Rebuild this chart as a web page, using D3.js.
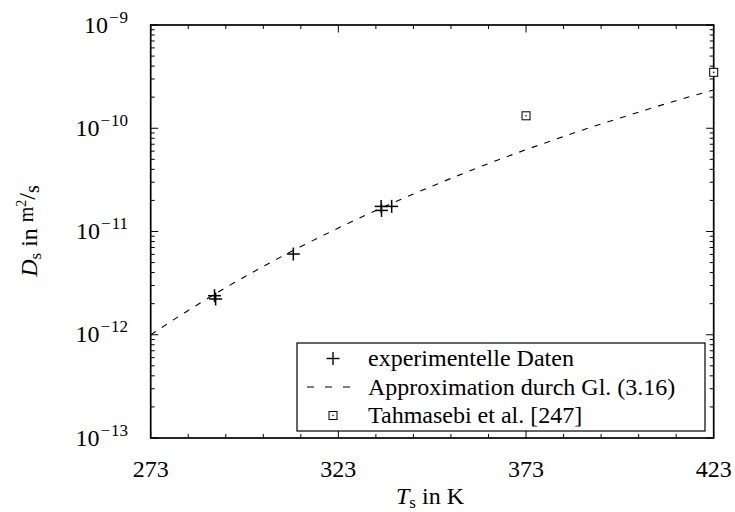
<!DOCTYPE html>
<html><head><meta charset="utf-8">
<script src="https://cdn.jsdelivr.net/npm/d3@7"></script>
<style>body{margin:0;background:#fff} svg{display:block} text{font-family:'Liberation Serif','DejaVu Serif',serif;fill:#000;white-space:pre}</style>
</head><body><svg id="c" width="735" height="512"></svg>
<script>
// ---- data ----
const xMajorTicks = [273, 323, 373, 423];
const xMinorTicks = [283, 293, 303, 313, 333, 343, 353, 363, 383, 393, 403, 413];
const yDecades = [-13, -12, -11, -10, -9];
const expT = [290.0, 290.3, 311.0, 334.4, 334.5, 337.2];
const expD = [2.39e-12, 2.22e-12, 6.05e-12, 1.75e-11, 1.60e-11, 1.75e-11];
const approxT = [273, 283, 293, 303, 313, 323, 333, 343, 353, 363, 373, 383, 393, 403, 413, 423];
const approxD = [1.00e-12, 1.72e-12, 2.86e-12, 4.59e-12, 7.15e-12, 1.08e-11, 1.60e-11, 2.31e-11,
                 3.27e-11, 4.55e-11, 6.20e-11, 8.32e-11, 1.10e-10, 1.43e-10, 1.85e-10, 2.35e-10];
const litT = [373, 423];
const litD = [1.32e-10, 3.48e-10];
const legendLabels = ["experimentelle Daten", "Approximation durch Gl. (3.16)", "Tahmasebi et al. [247]"];

// ---- layout ----
const L = 150.7, R = 713.7, T = 25, B = 438;
const FONT = "'Liberation Serif','DejaVu Serif',serif";
const svg = d3.select("#c");
const x = d3.scaleLinear().domain([273, 423]).range([L, R]);
const y = d3.scaleLog().domain([1e-13, 1e-9]).range([B, T]);

const MAJ = 7.5, MIN = 4;
const g = svg.append("g");

// curve
const line = d3.line().x((d, i) => x(approxT[i])).y((d, i) => y(approxD[i])).curve(d3.curveMonotoneX);
g.append("path").datum(approxD).attr("d", line)
  .attr("fill", "none").attr("stroke", "#000").attr("stroke-width", 1.1)
  .attr("stroke-dasharray", "6,7.3");

// ticks
const tk = svg.append("g").attr("stroke", "#000").attr("stroke-width", 1);
xMajorTicks.forEach(v => {
  tk.append("line").attr("x1", x(v)).attr("x2", x(v)).attr("y1", B).attr("y2", B - MAJ);
  tk.append("line").attr("x1", x(v)).attr("x2", x(v)).attr("y1", T).attr("y2", T + MAJ);
});
xMinorTicks.forEach(v => {
  tk.append("line").attr("x1", x(v)).attr("x2", x(v)).attr("y1", B).attr("y2", B - MIN);
  tk.append("line").attr("x1", x(v)).attr("x2", x(v)).attr("y1", T).attr("y2", T + MIN);
});
yDecades.forEach(e => {
  const v = Math.pow(10, e);
  tk.append("line").attr("x1", L).attr("x2", L + MAJ).attr("y1", y(v)).attr("y2", y(v));
  tk.append("line").attr("x1", R).attr("x2", R - MAJ).attr("y1", y(v)).attr("y2", y(v));
  if (e < -9) {
    for (let m = 2; m <= 9; m++) {
      const w = m * v;
      tk.append("line").attr("x1", L).attr("x2", L + MIN).attr("y1", y(w)).attr("y2", y(w));
      tk.append("line").attr("x1", R).attr("x2", R - MIN).attr("y1", y(w)).attr("y2", y(w));
    }
  }
});

// frame
svg.append("rect").attr("x", L).attr("y", T).attr("width", R - L).attr("height", B - T)
  .attr("fill", "none").attr("stroke", "#000").attr("stroke-width", 1.7);

// x tick labels
xMajorTicks.forEach(v => {
  svg.append("text").attr("x", x(v)).attr("y", 477).attr("text-anchor", "middle")
    .attr("font-family", FONT).attr("font-size", 24).text(v);
});
// y tick labels
yDecades.forEach(e => {
  const t = svg.append("text").attr("x", 128).attr("y", y(Math.pow(10, e)) + 7.5)
    .attr("text-anchor", "end").attr("font-family", FONT).attr("font-size", 24);
  t.append("tspan").text("10");
  t.append("tspan").attr("dy", -10).attr("dx", 1).attr("font-size", 17).text("\u2212");
  t.append("tspan").attr("dx", 1).attr("font-size", 17).text(String(-e));
});

// axis titles
const xt = svg.append("text").attr("x", 430).attr("y", 504).attr("text-anchor", "middle")
  .attr("font-family", FONT).attr("font-size", 24);
xt.append("tspan").attr("font-style", "italic").text("T");
xt.append("tspan").attr("font-size", 17).attr("dy", 4).text("s");
xt.append("tspan").attr("dy", -4).text(" in K");

const yt = svg.append("text").attr("transform", "translate(37,231) rotate(-90)")
  .attr("text-anchor", "middle").attr("font-family", FONT).attr("font-size", 24);
yt.append("tspan").attr("font-style", "italic").text("D");
yt.append("tspan").attr("font-size", 17).attr("dy", 4).text("s");
yt.append("tspan").attr("dy", -4).text(" in ");
yt.append("tspan").attr("font-size", 20).attr("dy", -4).text("m");
yt.append("tspan").attr("font-size", 14).attr("dy", -7).text("2");
yt.append("tspan").attr("font-size", 24).attr("dy", 9).text("/");
yt.append("tspan").attr("font-size", 20).attr("dy", 4).text("s");

// markers
function cross(sel, cx, cy, r) {
  sel.append("line").attr("x1", cx - r).attr("x2", cx + r).attr("y1", cy).attr("y2", cy);
  sel.append("line").attr("x1", cx).attr("x2", cx).attr("y1", cy - r).attr("y2", cy + r);
}
function square(sel, cx, cy, s) {
  sel.append("rect").attr("x", cx - s / 2).attr("y", cy - s / 2).attr("width", s).attr("height", s)
    .attr("fill", "#fff").attr("stroke", "#000").attr("stroke-width", 1);
  sel.append("circle").attr("cx", cx).attr("cy", cy).attr("r", 0.8).attr("fill", "#000");
}
const mk = svg.append("g").attr("stroke", "#000").attr("stroke-width", 1.5);
expD.forEach((d, i) => cross(mk, x(expT[i]), y(d), 6.5));
const sq = svg.append("g");
litD.forEach((d, i) => square(sq, x(litT[i]), y(d), 8));

// legend
const lg = svg.append("g");
lg.append("rect").attr("x", 297).attr("y", 343).attr("width", 408).attr("height", 88)
  .attr("fill", "#fff").attr("stroke", "#000").attr("stroke-width", 1.2);
const rows = [358.5, 387, 415.5];
const lsym = lg.append("g").attr("stroke", "#000").attr("stroke-width", 1.4);
cross(lsym, 333, rows[0], 6.5);
lg.append("line").attr("x1", 307).attr("x2", 350).attr("y1", rows[1]).attr("y2", rows[1])
  .attr("stroke", "#000").attr("stroke-width", 1.1).attr("stroke-dasharray", "7,11");
square(lg, 333, rows[2], 8);
legendLabels.forEach((s, i) => {
  lg.append("text").attr("x", 368).attr("y", rows[i] + 7.5).attr("font-family", FONT)
    .attr("font-size", 24).text(s);
});
</script></body></html>
